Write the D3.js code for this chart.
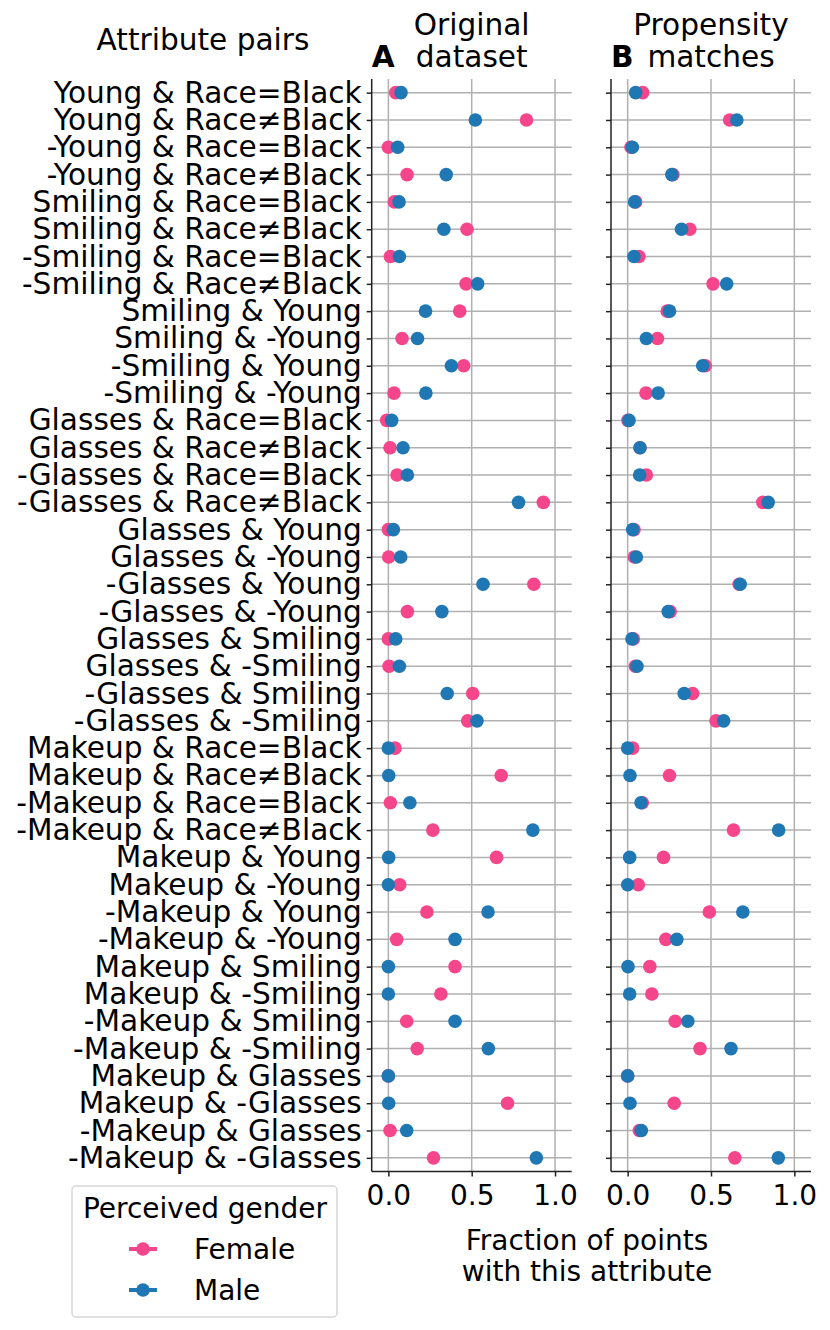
<!DOCTYPE html>
<html>
<head>
<meta charset="utf-8">
<script src="https://cdn.jsdelivr.net/npm/d3@7/dist/d3.min.js"></script>
<style>
  * { margin: 0; padding: 0; }
  body { background: white; }
  text { font-family: "DejaVu Sans", sans-serif; fill: black; }
  .grid line { stroke: #b0b0b0; stroke-width: 1.5; }
  .axis path, .axis line { stroke: #222; stroke-width: 1.5; }
</style>
</head>
<body>
<script>
// attribute pairs, top to bottom
var pairs = [
  "Young & Race=Black", "Young & Race\u2260Black", "-Young & Race=Black", "-Young & Race\u2260Black",
  "Smiling & Race=Black", "Smiling & Race\u2260Black", "-Smiling & Race=Black", "-Smiling & Race\u2260Black",
  "Smiling & Young", "Smiling & -Young", "-Smiling & Young", "-Smiling & -Young",
  "Glasses & Race=Black", "Glasses & Race\u2260Black", "-Glasses & Race=Black", "-Glasses & Race\u2260Black",
  "Glasses & Young", "Glasses & -Young", "-Glasses & Young", "-Glasses & -Young",
  "Glasses & Smiling", "Glasses & -Smiling", "-Glasses & Smiling", "-Glasses & -Smiling",
  "Makeup & Race=Black", "Makeup & Race\u2260Black", "-Makeup & Race=Black", "-Makeup & Race\u2260Black",
  "Makeup & Young", "Makeup & -Young", "-Makeup & Young", "-Makeup & -Young",
  "Makeup & Smiling", "Makeup & -Smiling", "-Makeup & Smiling", "-Makeup & -Smiling",
  "Makeup & Glasses", "Makeup & -Glasses", "-Makeup & Glasses", "-Makeup & -Glasses"
];

// panel A: original dataset
var origFemale = [0.044, 0.829, 0.0, 0.112, 0.036, 0.472, 0.012, 0.466, 0.428, 0.082,
                  0.452, 0.034, -0.01, 0.01, 0.052, 0.930, 0.0, 0.002, 0.873, 0.114,
                  0.0, 0.004, 0.506, 0.476, 0.04, 0.677, 0.012, 0.267, 0.649, 0.068,
                  0.231, 0.05, 0.40, 0.315, 0.11, 0.173, 0.0, 0.715, 0.01, 0.271];
var origMale   = [0.076, 0.522, 0.056, 0.347, 0.064, 0.333, 0.066, 0.536, 0.223, 0.175,
                  0.378, 0.225, 0.02, 0.088, 0.114, 0.781, 0.03, 0.074, 0.568, 0.321,
                  0.044, 0.066, 0.353, 0.532, 0.0, 0.002, 0.129, 0.867, 0.002, 0.0,
                  0.598, 0.40, 0.0, 0.0, 0.40, 0.60, 0.0, 0.002, 0.11, 0.888];

// panel B: propensity matches
var matchFemale = [0.09, 0.612, 0.02, 0.271, 0.048, 0.373, 0.068, 0.512, 0.237, 0.179,
                   0.466, 0.11, 0.002, 0.074, 0.112, 0.811, 0.038, 0.04, 0.669, 0.255,
                   0.034, 0.046, 0.39, 0.53, 0.03, 0.251, 0.088, 0.635, 0.215, 0.064,
                   0.49, 0.229, 0.133, 0.145, 0.285, 0.434, 0.0, 0.279, 0.07, 0.643];
var matchMale   = [0.048, 0.655, 0.028, 0.265, 0.042, 0.323, 0.038, 0.594, 0.251, 0.112,
                   0.45, 0.183, 0.008, 0.074, 0.072, 0.843, 0.03, 0.052, 0.675, 0.243,
                   0.026, 0.056, 0.339, 0.576, 0.0, 0.014, 0.08, 0.906, 0.012, 0.0,
                   0.691, 0.295, 0.002, 0.012, 0.361, 0.62, 0.0, 0.014, 0.082, 0.904];

var xTicks = [0, 0.5, 1.0];
var genders = ["Female", "Male"];
var colors = ["#f5458b", "#1f77b4"];

var w = 830, h = 1330;
var plotTop = 79, plotBottom = 1171.5;
var fs = 28;      // x ticks, x label, legend
var bigFs = 29.6; // y tick labels and titles

var svg = d3.select("body").append("svg")
  .attr("width", w)
  .attr("height", h);

var y = d3.scalePoint()
  .domain(pairs)
  .range([plotTop, plotBottom])
  .padding(0.5);

var panels = [
  { left: 371.7, right: 571.7, female: origFemale, male: origMale, letter: "A", title: ["Original", "dataset"], labels: true },
  { left: 611, right: 811, female: matchFemale, male: matchMale, letter: "B", title: ["Propensity", "matches"], labels: false }
];

panels.forEach(function(p) {
  var x = d3.scaleLinear().domain([-0.1, 1.1]).range([p.left, p.right]);
  var g = svg.append("g");

  // grid
  var grid = g.append("g").attr("class", "grid");
  grid.selectAll(".hg").data(pairs).enter().append("line")
    .attr("x1", p.left).attr("x2", p.right)
    .attr("y1", function(d) { return y(d); })
    .attr("y2", function(d) { return y(d); });
  grid.selectAll(".vg").data(xTicks).enter().append("line")
    .attr("x1", function(d) { return x(d); })
    .attr("x2", function(d) { return x(d); })
    .attr("y1", plotTop).attr("y2", plotBottom);

  // axes
  var ya = g.append("g").attr("class", "axis")
    .attr("transform", "translate(" + p.left + ",0)")
    .call(d3.axisLeft(y).tickSize(5).tickPadding(5).tickSizeOuter(0)
      .tickFormat(p.labels ? null : function() { return ""; }));
  ya.select(".domain").attr("d", "M0," + plotTop + "V" + plotBottom);
  ya.selectAll("text").attr("font-size", bigFs).attr("font-family", "DejaVu Sans").attr("fill", "black");

  var xa = g.append("g").attr("class", "axis")
    .attr("transform", "translate(0," + plotBottom + ")")
    .call(d3.axisBottom(x).tickValues(xTicks).tickFormat(d3.format(".1f"))
      .tickSize(5).tickPadding(9).tickSizeOuter(0));
  xa.select(".domain").attr("d", "M" + p.left + ",0H" + p.right);
  xa.selectAll("text").attr("font-size", fs).attr("font-family", "DejaVu Sans").attr("fill", "black");

  // dots: female below, male on top
  [p.female, p.male].forEach(function(vals, k) {
    g.append("g").selectAll("circle").data(vals).enter().append("circle")
      .attr("cx", function(d) { return x(d); })
      .attr("cy", function(d, i) { return y(pairs[i]); })
      .attr("r", 6.8)
      .attr("fill", colors[k]);
  });

  // titles
  var cx = (p.left + p.right) / 2;
  g.append("text").attr("x", cx).attr("y", 35).attr("text-anchor", "middle")
    .attr("font-size", bigFs).text(p.title[0]);
  g.append("text").attr("x", cx).attr("y", 67).attr("text-anchor", "middle")
    .attr("font-size", bigFs).text(p.title[1]);
  g.append("text").attr("x", p.left).attr("y", 67)
    .attr("font-size", bigFs).attr("font-weight", "bold").text(p.letter);
});

svg.append("text").attr("x", 203).attr("y", 50).attr("text-anchor", "middle")
  .attr("font-size", bigFs).text("Attribute pairs");

svg.append("text").attr("x", 587).attr("y", 1250).attr("text-anchor", "middle")
  .attr("font-size", fs).text("Fraction of points");
svg.append("text").attr("x", 587).attr("y", 1281).attr("text-anchor", "middle")
  .attr("font-size", fs).text("with this attribute");

// legend
var lg = svg.append("g");
lg.append("rect").attr("x", 72).attr("y", 1186).attr("width", 265).attr("height", 131)
  .attr("rx", 4).attr("fill", "white").attr("stroke", "#d6d6d6").attr("stroke-width", 1.5);
lg.append("text").attr("x", 205).attr("y", 1218).attr("text-anchor", "middle")
  .attr("font-size", fs).text("Perceived gender");
genders.forEach(function(gname, i) {
  var ly = 1249 + i * 41;
  lg.append("line").attr("x1", 129).attr("x2", 157).attr("y1", ly).attr("y2", ly)
    .attr("stroke", colors[i]).attr("stroke-width", 4);
  lg.append("circle").attr("cx", 143).attr("cy", ly).attr("r", 6.8).attr("fill", colors[i]);
  lg.append("text").attr("x", 194).attr("y", ly + 10).attr("font-size", fs).text(gname);
});
</script>
</body>
</html>
